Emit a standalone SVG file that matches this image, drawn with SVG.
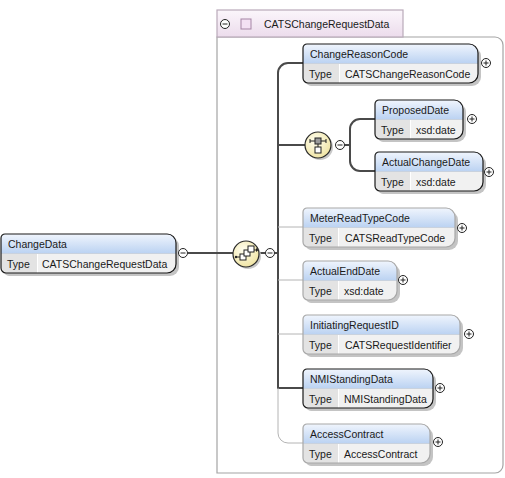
<svg xmlns="http://www.w3.org/2000/svg" width="505" height="478" viewBox="0 0 505 478">
<defs>
<linearGradient id="hdrG" x1="0" y1="0" x2="0" y2="1">
<stop offset="0" stop-color="#f0f5fd"/>
<stop offset="1" stop-color="#bcd3f2"/>
</linearGradient>
<linearGradient id="tabG" x1="0" y1="0" x2="0" y2="1">
<stop offset="0" stop-color="#fbf6fb"/>
<stop offset="1" stop-color="#ecdcec"/>
</linearGradient>
<radialGradient id="seqG" cx="0.4" cy="0.35" r="0.7">
<stop offset="0" stop-color="#fffef0"/>
<stop offset="1" stop-color="#efe3a0"/>
</radialGradient>
</defs>
<style>
text{font-family:"Liberation Sans",Arial,sans-serif;font-size:10.5px;fill:#1a1a1a}
.shadow{fill:#c4c4c4}
.body{fill:#f1f1f1}
.hdr{fill:url(#hdrG)}
.tcell{fill:#e3e3e3}
.div{stroke:#ffffff;stroke-width:1;fill:none}
.hdiv{stroke:#c9d2de;stroke-width:1;fill:none}
.om{fill:none;stroke:#1a1a1a;stroke-width:1.2}
.oo{fill:none;stroke:#a8a8a8;stroke-width:1.2}
.pm{fill:#ffffff;stroke:#222222;stroke-width:1}
.pml{stroke:#222222;stroke-width:1;fill:none}
.dark{fill:none;stroke:#4a4a4a;stroke-width:2}
.light{fill:none;stroke:#b4b4b4;stroke-width:1}
.seq{fill:url(#seqG);stroke:#2a2a2a;stroke-width:1.2}
.seqsh{fill:#c8c8c8}
.ic{fill:#ffffff;stroke:#222222;stroke-width:1}
.icg{fill:#9a9a9a;stroke:#222222;stroke-width:1}
</style>

<g id="complexType-CATSChangeRequestData">
<path d="M217,37 H495 A8,8 0 0 1 503,45 V465 A8,8 0 0 1 495,473 H217 Z" fill="#ffffff" stroke="#a4a4a4" stroke-width="1.2"/>
<rect x="217" y="10" width="186" height="27" fill="url(#tabG)" stroke="#b9aab9" stroke-width="1.2"/>
<circle class="pm" cx="225" cy="24" r="4.5"/>
<path class="pml" d="M222.5,24 H227.5"/>
<rect x="241" y="19" width="10" height="10" fill="#f3e1f3" stroke="#a585a5" stroke-width="1"/>
<text x="264" y="28">CATSChangeRequestData</text>
</g>

<g id="connectors">
<path class="dark" d="M188,253 H233"/>
<path class="dark" d="M259,253 H265"/>
<path class="dark" d="M275,253 H278"/>
<path class="dark" d="M303,63 H288 A10,10 0 0 0 278,73 V388 H303"/>
<path class="light" d="M278,388 V433 A10,10 0 0 0 288,443 H303"/>
<path class="light" d="M278,227 H303"/>
<path class="light" d="M278,280 H303"/>
<path class="light" d="M278,334 H303"/>
<path class="dark" d="M278,145 H305"/>
<path class="dark" d="M345,145 H350"/>
<path class="dark" d="M375,119 H360 A10,10 0 0 0 350,129 V161 A10,10 0 0 0 360,171 H375"/>
</g>

<g id="sequence-outer">
<ellipse class="seqsh" cx="248" cy="256" rx="13" ry="13"/>
<ellipse class="seq" cx="246" cy="254" rx="13" ry="13"/>
<path class="pml" d="M236,257 H241 M254,250 H257"/>
<circle cx="236" cy="257" r="1.2" fill="#222"/>
<path d="M256,248 L258.5,250 L256,252 Z" fill="#222"/>
<rect class="ic" x="240" y="254" width="6" height="6"/>
<rect class="ic" x="244" y="250" width="6" height="6"/>
<rect class="ic" x="248" y="246" width="6" height="6"/>
<circle class="pm" cx="270" cy="253" r="4.5"/>
<path class="pml" d="M267.5,253 H272.5"/>
</g>

<g id="sequence-inner">
<ellipse class="seqsh" cx="320" cy="147" rx="13" ry="13"/>
<ellipse class="seq" cx="318" cy="145" rx="13" ry="13"/>
<path class="pml" d="M310,141 H326 M318,143 V147"/>
<path d="M310,139 V143 M326,139 V143" stroke="#222" stroke-width="1"/>
<rect class="icg" x="315" y="138" width="6" height="6"/>
<rect class="ic" x="315" y="147" width="6" height="6"/>
<circle class="pm" cx="340" cy="145" r="4.5"/>
<path class="pml" d="M337.5,145 H342.5"/>
</g>

<g id="ChangeData" transform="translate(1,234)">
<path class="shadow" transform="translate(3,3)" d="M4,0 H166 A9,9 0 0 1 175,9 V30 A9,9 0 0 1 166,39 H5 A5,5 0 0 1 0,34 V4 A4,4 0 0 1 4,0 Z"/>
<path class="body" d="M4,0 H166 A9,9 0 0 1 175,9 V30 A9,9 0 0 1 166,39 H5 A5,5 0 0 1 0,34 V4 A4,4 0 0 1 4,0 Z"/>
<path class="hdr" d="M4,0 H166 A9,9 0 0 1 175,9 V19 H0 V4 A4,4 0 0 1 4,0 Z"/>
<path class="tcell" d="M0,19 H36 V39 H5 A5,5 0 0 1 0,34 Z"/>
<path class="hdiv" d="M0,19.5 H175"/>
<path class="div" d="M36.5,20 V39"/>
<path class="om" d="M4,0 H166 A9,9 0 0 1 175,9 V30 A9,9 0 0 1 166,39 H5 A5,5 0 0 1 0,34 V4 A4,4 0 0 1 4,0 Z"/>
<text x="7" y="14">ChangeData</text>
<text x="6" y="34">Type</text>
<text x="41" y="34">CATSChangeRequestData</text>
</g>
<g id="ChangeData-toggle">
<circle class="pm" cx="183" cy="253" r="4.5"/>
<path class="pml" d="M180.5,253 H185.5"/>
</g>

<g id="ChangeReasonCode" transform="translate(303,44)">
<path class="shadow" transform="translate(3,3)" d="M4,0 H166 A9,9 0 0 1 175,9 V30 A9,9 0 0 1 166,39 H5 A5,5 0 0 1 0,34 V4 A4,4 0 0 1 4,0 Z"/>
<path class="body" d="M4,0 H166 A9,9 0 0 1 175,9 V30 A9,9 0 0 1 166,39 H5 A5,5 0 0 1 0,34 V4 A4,4 0 0 1 4,0 Z"/>
<path class="hdr" d="M4,0 H166 A9,9 0 0 1 175,9 V19 H0 V4 A4,4 0 0 1 4,0 Z"/>
<path class="tcell" d="M0,19 H36 V39 H5 A5,5 0 0 1 0,34 Z"/>
<path class="hdiv" d="M0,19.5 H175"/>
<path class="div" d="M36.5,20 V39"/>
<path class="om" d="M4,0 H166 A9,9 0 0 1 175,9 V30 A9,9 0 0 1 166,39 H5 A5,5 0 0 1 0,34 V4 A4,4 0 0 1 4,0 Z"/>
<text x="7" y="14">ChangeReasonCode</text>
<text x="6" y="34">Type</text>
<text x="42" y="34">CATSChangeReasonCode</text>
<circle class="pm" cx="183" cy="19" r="4.5"/>
<path class="pml" d="M180.5,19 H185.5 M183,16.5 V21.5"/>
</g>

<g id="ProposedDate" transform="translate(375,100)">
<path class="shadow" transform="translate(3,3)" d="M4,0 H79 A9,9 0 0 1 88,9 V30 A9,9 0 0 1 79,39 H5 A5,5 0 0 1 0,34 V4 A4,4 0 0 1 4,0 Z"/>
<path class="body" d="M4,0 H79 A9,9 0 0 1 88,9 V30 A9,9 0 0 1 79,39 H5 A5,5 0 0 1 0,34 V4 A4,4 0 0 1 4,0 Z"/>
<path class="hdr" d="M4,0 H79 A9,9 0 0 1 88,9 V19 H0 V4 A4,4 0 0 1 4,0 Z"/>
<path class="tcell" d="M0,19 H35 V39 H5 A5,5 0 0 1 0,34 Z"/>
<path class="hdiv" d="M0,19.5 H88"/>
<path class="div" d="M35.5,20 V39"/>
<path class="om" d="M4,0 H79 A9,9 0 0 1 88,9 V30 A9,9 0 0 1 79,39 H5 A5,5 0 0 1 0,34 V4 A4,4 0 0 1 4,0 Z"/>
<text x="7" y="14">ProposedDate</text>
<text x="6" y="34">Type</text>
<text x="41" y="34">xsd:date</text>
<circle class="pm" cx="97" cy="19" r="4.5"/>
<path class="pml" d="M94.5,19 H99.5 M97,16.5 V21.5"/>
</g>

<g id="ActualChangeDate" transform="translate(375,152)">
<path class="shadow" transform="translate(3,3)" d="M4,0 H99 A9,9 0 0 1 108,9 V30 A9,9 0 0 1 99,39 H5 A5,5 0 0 1 0,34 V4 A4,4 0 0 1 4,0 Z"/>
<path class="body" d="M4,0 H99 A9,9 0 0 1 108,9 V30 A9,9 0 0 1 99,39 H5 A5,5 0 0 1 0,34 V4 A4,4 0 0 1 4,0 Z"/>
<path class="hdr" d="M4,0 H99 A9,9 0 0 1 108,9 V19 H0 V4 A4,4 0 0 1 4,0 Z"/>
<path class="tcell" d="M0,19 H35 V39 H5 A5,5 0 0 1 0,34 Z"/>
<path class="hdiv" d="M0,19.5 H108"/>
<path class="div" d="M35.5,20 V39"/>
<path class="om" d="M4,0 H99 A9,9 0 0 1 108,9 V30 A9,9 0 0 1 99,39 H5 A5,5 0 0 1 0,34 V4 A4,4 0 0 1 4,0 Z"/>
<text x="7" y="14">ActualChangeDate</text>
<text x="6" y="34">Type</text>
<text x="41" y="34">xsd:date</text>
<circle class="pm" cx="114" cy="20" r="4.5"/>
<path class="pml" d="M111.5,20 H116.5 M114,17.5 V22.5"/>
</g>

<g id="MeterReadTypeCode" transform="translate(303,208)">
<path class="shadow" transform="translate(3,3)" d="M4,0 H143 A9,9 0 0 1 152,9 V30 A9,9 0 0 1 143,39 H5 A5,5 0 0 1 0,34 V4 A4,4 0 0 1 4,0 Z"/>
<path class="body" d="M4,0 H143 A9,9 0 0 1 152,9 V30 A9,9 0 0 1 143,39 H5 A5,5 0 0 1 0,34 V4 A4,4 0 0 1 4,0 Z"/>
<path class="hdr" d="M4,0 H143 A9,9 0 0 1 152,9 V19 H0 V4 A4,4 0 0 1 4,0 Z"/>
<path class="tcell" d="M0,19 H35 V39 H5 A5,5 0 0 1 0,34 Z"/>
<path class="hdiv" d="M0,19.5 H152"/>
<path class="div" d="M35.5,20 V39"/>
<path class="oo" d="M4,0 H143 A9,9 0 0 1 152,9 V30 A9,9 0 0 1 143,39 H5 A5,5 0 0 1 0,34 V4 A4,4 0 0 1 4,0 Z"/>
<text x="7" y="14">MeterReadTypeCode</text>
<text x="6" y="34">Type</text>
<text x="42" y="34">CATSReadTypeCode</text>
<circle class="pm" cx="159" cy="20" r="4.5"/>
<path class="pml" d="M156.5,20 H161.5 M159,17.5 V22.5"/>
</g>

<g id="ActualEndDate" transform="translate(303,261)">
<path class="shadow" transform="translate(3,3)" d="M4,0 H85 A9,9 0 0 1 94,9 V30 A9,9 0 0 1 85,39 H5 A5,5 0 0 1 0,34 V4 A4,4 0 0 1 4,0 Z"/>
<path class="body" d="M4,0 H85 A9,9 0 0 1 94,9 V30 A9,9 0 0 1 85,39 H5 A5,5 0 0 1 0,34 V4 A4,4 0 0 1 4,0 Z"/>
<path class="hdr" d="M4,0 H85 A9,9 0 0 1 94,9 V19 H0 V4 A4,4 0 0 1 4,0 Z"/>
<path class="tcell" d="M0,19 H35 V39 H5 A5,5 0 0 1 0,34 Z"/>
<path class="hdiv" d="M0,19.5 H94"/>
<path class="div" d="M35.5,20 V39"/>
<path class="oo" d="M4,0 H85 A9,9 0 0 1 94,9 V30 A9,9 0 0 1 85,39 H5 A5,5 0 0 1 0,34 V4 A4,4 0 0 1 4,0 Z"/>
<text x="7" y="14">ActualEndDate</text>
<text x="6" y="34">Type</text>
<text x="41" y="34">xsd:date</text>
<circle class="pm" cx="100" cy="19" r="4.5"/>
<path class="pml" d="M97.5,19 H102.5 M100,16.5 V21.5"/>
</g>

<g id="InitiatingRequestID" transform="translate(303,315)">
<path class="shadow" transform="translate(3,3)" d="M4,0 H148 A9,9 0 0 1 157,9 V30 A9,9 0 0 1 148,39 H5 A5,5 0 0 1 0,34 V4 A4,4 0 0 1 4,0 Z"/>
<path class="body" d="M4,0 H148 A9,9 0 0 1 157,9 V30 A9,9 0 0 1 148,39 H5 A5,5 0 0 1 0,34 V4 A4,4 0 0 1 4,0 Z"/>
<path class="hdr" d="M4,0 H148 A9,9 0 0 1 157,9 V19 H0 V4 A4,4 0 0 1 4,0 Z"/>
<path class="tcell" d="M0,19 H35 V39 H5 A5,5 0 0 1 0,34 Z"/>
<path class="hdiv" d="M0,19.5 H157"/>
<path class="div" d="M35.5,20 V39"/>
<path class="oo" d="M4,0 H148 A9,9 0 0 1 157,9 V30 A9,9 0 0 1 148,39 H5 A5,5 0 0 1 0,34 V4 A4,4 0 0 1 4,0 Z"/>
<text x="7" y="14">InitiatingRequestID</text>
<text x="6" y="34">Type</text>
<text x="42" y="34">CATSRequestIdentifier</text>
<circle class="pm" cx="166" cy="19" r="4.5"/>
<path class="pml" d="M163.5,19 H168.5 M166,16.5 V21.5"/>
</g>

<g id="NMIStandingData" transform="translate(303,369)">
<path class="shadow" transform="translate(3,3)" d="M4,0 H121 A9,9 0 0 1 130,9 V30 A9,9 0 0 1 121,39 H5 A5,5 0 0 1 0,34 V4 A4,4 0 0 1 4,0 Z"/>
<path class="body" d="M4,0 H121 A9,9 0 0 1 130,9 V30 A9,9 0 0 1 121,39 H5 A5,5 0 0 1 0,34 V4 A4,4 0 0 1 4,0 Z"/>
<path class="hdr" d="M4,0 H121 A9,9 0 0 1 130,9 V19 H0 V4 A4,4 0 0 1 4,0 Z"/>
<path class="tcell" d="M0,19 H35 V39 H5 A5,5 0 0 1 0,34 Z"/>
<path class="hdiv" d="M0,19.5 H130"/>
<path class="div" d="M35.5,20 V39"/>
<path class="om" d="M4,0 H121 A9,9 0 0 1 130,9 V30 A9,9 0 0 1 121,39 H5 A5,5 0 0 1 0,34 V4 A4,4 0 0 1 4,0 Z"/>
<text x="7" y="14">NMIStandingData</text>
<text x="6" y="34">Type</text>
<text x="41" y="34">NMIStandingData</text>
<circle class="pm" cx="137" cy="19" r="4.5"/>
<path class="pml" d="M134.5,19 H139.5 M137,16.5 V21.5"/>
</g>

<g id="AccessContract" transform="translate(303,424)">
<path class="shadow" transform="translate(3,3)" d="M4,0 H118 A9,9 0 0 1 127,9 V30 A9,9 0 0 1 118,39 H5 A5,5 0 0 1 0,34 V4 A4,4 0 0 1 4,0 Z"/>
<path class="body" d="M4,0 H118 A9,9 0 0 1 127,9 V30 A9,9 0 0 1 118,39 H5 A5,5 0 0 1 0,34 V4 A4,4 0 0 1 4,0 Z"/>
<path class="hdr" d="M4,0 H118 A9,9 0 0 1 127,9 V19 H0 V4 A4,4 0 0 1 4,0 Z"/>
<path class="tcell" d="M0,19 H35 V39 H5 A5,5 0 0 1 0,34 Z"/>
<path class="hdiv" d="M0,19.5 H127"/>
<path class="div" d="M35.5,20 V39"/>
<path class="oo" d="M4,0 H118 A9,9 0 0 1 127,9 V30 A9,9 0 0 1 118,39 H5 A5,5 0 0 1 0,34 V4 A4,4 0 0 1 4,0 Z"/>
<text x="7" y="14">AccessContract</text>
<text x="6" y="34">Type</text>
<text x="41" y="34">AccessContract</text>
<circle class="pm" cx="135" cy="18" r="4.5"/>
<path class="pml" d="M132.5,18 H137.5 M135,15.5 V20.5"/>
</g>
</svg>
